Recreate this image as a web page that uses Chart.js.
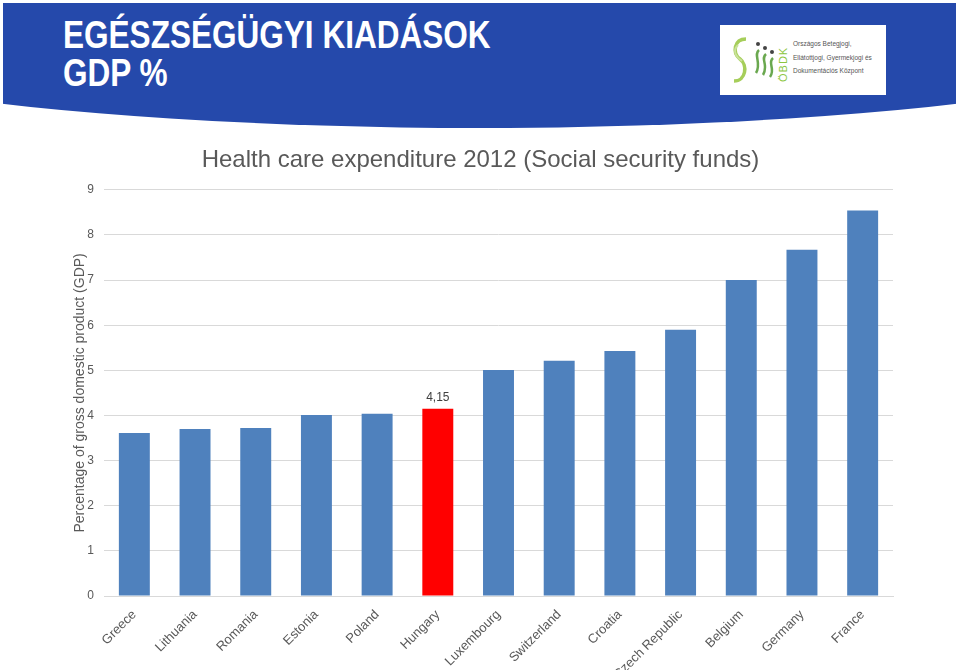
<!DOCTYPE html>
<html lang="hu">
<head>
  <meta charset="UTF-8" />
  <title>Egészségügyi kiadások GDP %</title>
  <script src="https://cdn.jsdelivr.net/npm/chart.js"></script>
  <style>
    body {
      margin: 0;
      width: 959px;
      height: 670px;
      overflow: hidden;
      background: #fff;
      font-family: "Liberation Sans", Arial, sans-serif;
      position: relative;
    }

    .band {
      position: absolute;
      left: 3px;
      right: 3px;
      top: 3px;
      height: 125px;
      background: #2549ab;
      clip-path: ellipse(808px 125px at 50% 0);
    }

    .band h1 {
      position: absolute;
      left: 60px;
      top: 13px;
      margin: 0;
      color: #fff;
      font-size: 38px;
      line-height: 38px;
      font-weight: bold;
      transform: scaleX(0.83);
      transform-origin: left top;
      white-space: nowrap;
    }

    .logo {
      position: absolute;
      left: 720px;
      top: 25px;
      width: 166px;
      height: 70px;
      background: #fff;
    }

    .logo svg {
      position: absolute;
      left: 0;
      top: 0;
    }

    .logo .txt {
      position: absolute;
      left: 73px;
      top: 12px;
      color: #555;
      font-size: 6.5px;
      line-height: 13.5px;
      white-space: nowrap;
    }

    .chart-box {
      position: absolute;
      left: 0;
      top: 110px;
      width: 959px;
      height: 560px;
    }
  </style>
</head>
<body>

  <div class="band">
    <h1>EGÉSZSÉGÜGYI KIADÁSOK<br>GDP %</h1>
  </div>

  <div class="logo">
    <svg width="72" height="70" viewBox="0 0 72 70">
      <path d="M26 14 C14 14 12 28 20 34 C28 40 26 56 14 56" fill="none" stroke="#a6ce5a" stroke-width="3.5" />
      <path d="M18 20 C12 26 16 32 22 36" fill="none" stroke="#c9e29a" stroke-width="2" />
      <circle cx="38" cy="19" r="2" fill="#444" />
      <circle cx="45" cy="23" r="2" fill="#444" />
      <circle cx="52" cy="27" r="2" fill="#444" />
      <path d="M39 25 C33 30 42 38 36 48" fill="none" stroke="#6aa84f" stroke-width="2.5" />
      <path d="M46 29 C40 34 49 40 43 50" fill="none" stroke="#6aa84f" stroke-width="2.5" />
      <path d="M53 33 C47 38 56 44 50 52" fill="none" stroke="#6aa84f" stroke-width="2.5" />
      <text x="0" y="0" transform="translate(67 57) rotate(-90)" fill="#8cc63f"
            font-family="Liberation Sans, Arial, sans-serif" font-size="11" letter-spacing="1">ÖBDK</text>
    </svg>
    <div class="txt">Országos Betegjogi,<br>Ellátottjogi, Gyermekjogi és<br>Dokumentációs Központ</div>
  </div>

  <div class="chart-box">
    <canvas id="chart" width="959" height="560"></canvas>
  </div>

  <script>
    const countries = ['Greece', 'Lithuania', 'Romania', 'Estonia', 'Poland', 'Hungary', 'Luxembourg',
      'Switzerland', 'Croatia', 'Czech Republic', 'Belgium', 'Germany', 'France'];
    const spending = [3.61, 3.70, 3.72, 4.01, 4.04, 4.15, 5.01, 5.21, 5.43, 5.90, 7.00, 7.67, 8.54];
    const yTicks = [0, 1, 2, 3, 4, 5, 6, 7, 8, 9];
    const highlight = 'Hungary';

    const barColors = countries.map(c => c === highlight ? '#ff0000' : '#4f81bd');

    // only the highlighted bar gets a value label
    const valueLabel = {
      id: 'valueLabel',
      afterDatasetsDraw(chart) {
        const i = countries.indexOf(highlight);
        const bar = chart.getDatasetMeta(0).data[i];
        const ctx = chart.ctx;
        ctx.save();
        ctx.font = '12px "Liberation Sans", Arial, sans-serif';
        ctx.fillStyle = '#404040';
        ctx.textAlign = 'center';
        ctx.textBaseline = 'bottom';
        ctx.fillText(spending[i].toFixed(2).replace('.', ','), bar.x, bar.y - 5);
        ctx.restore();
      }
    };

    new Chart(document.getElementById('chart'), {
      type: 'bar',
      data: {
        labels: countries,
        datasets: [{
          data: spending,
          backgroundColor: barColors,
          barPercentage: 0.51,
          categoryPercentage: 1
        }]
      },
      options: {
        responsive: false,
        animation: false,
        layout: { padding: { left: 68, right: 66, top: 29, bottom: 0 } },
        plugins: {
          legend: { display: false },
          tooltip: { enabled: false },
          title: {
            display: true,
            text: 'Health care expenditure 2012 (Social security funds)',
            color: '#595959',
            font: { family: '"Liberation Sans", Arial, sans-serif', size: 24, weight: 'normal' },
            padding: { top: 7, bottom: 15 }
          }
        },
        scales: {
          x: {
            grid: { display: false },
            border: { color: '#d9d9d9' },
            ticks: {
              color: '#595959',
              font: { family: '"Liberation Sans", Arial, sans-serif', size: 13 },
              minRotation: 45,
              maxRotation: 45,
              autoSkip: false
            },
            afterFit(s) { s.height = 74; }
          },
          y: {
            min: 0,
            max: 9,
            afterBuildTicks(s) { s.ticks = yTicks.map(v => ({ value: v })); },
            grid: { color: '#d9d9d9', drawTicks: false },
            border: { display: false },
            ticks: {
              color: '#595959',
              padding: 10,
              font: { family: '"Liberation Sans", Arial, sans-serif', size: 12 }
            },
            title: {
              display: true,
              text: 'Percentage of gross domestic product (GDP)',
              color: '#595959',
              font: { family: '"Liberation Sans", Arial, sans-serif', size: 14 },
              padding: { top: 4, bottom: 0 }
            },
            afterFit(s) { s.width = 36; }
          }
        }
      },
      plugins: [valueLabel]
    });
  </script>

</body>
</html>
